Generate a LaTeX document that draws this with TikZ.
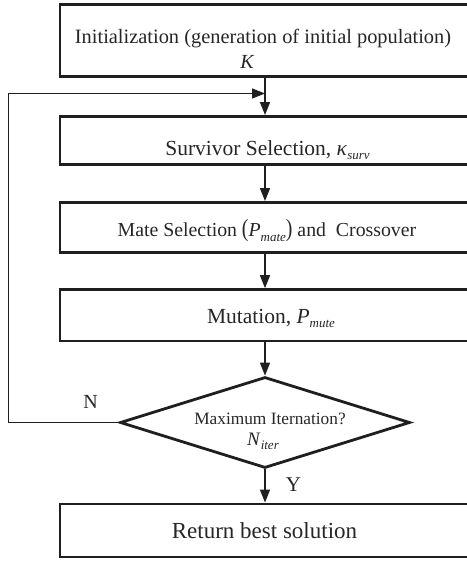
\documentclass[tikz,border=0pt]{standalone}
\usepackage{fontspec}
\setmainfont{Liberation Serif}
\usepackage{graphicx}
\usetikzlibrary{arrows.meta,shapes.geometric}
\newcommand\subsc[1]{\raisebox{-4.5pt}{\fontsize{13}{13}\selectfont\itshape #1}}
\newcommand\fs[1]{\fontsize{#1}{#1}\selectfont}
\begin{document}
\begin{tikzpicture}[x=1pt,y=-1pt,
  boxnode/.style={draw=black!88,line width=2.9pt,rectangle,minimum width=410pt,inner sep=0pt},
  decnode/.style={draw=black!88,line width=2.8pt,diamond,minimum width=290pt,minimum height=91pt,inner sep=0pt},
  txt/.style={anchor=base,inner sep=0pt,text=black!85},
  flow/.style={draw=black!88,line width=1.4pt,-{Triangle[length=13pt,width=10pt]}},
  back/.style={draw=black!88,line width=1.1pt,-{Triangle[length=13pt,width=10pt]}}]
\useasboundingbox (0,0) rectangle (466,561);
\node[boxnode,minimum height=72pt] (b1) at (265,40.5) {};
\node[boxnode,minimum height=47.8pt] (b2) at (265,140.4) {};
\node[boxnode,minimum height=50pt] (b3) at (265,227.5) {};
\node[boxnode,minimum height=51.3pt] (b4) at (265,315.3) {};
\node[decnode] (d) at (265,422.5) {};
\node[boxnode,minimum height=53pt] (b5) at (265,530.5) {};
% texts
\node[txt] (t1) at (263,43.3) {\fs{20.4}Initialization (generation of initial population)};
\node[txt] (tk) at (247,68.3) {\fs{20}\itshape K};
\node[txt] (t2) at (267.5,155.5) {\fs{21.5}Survivor Selection, \textit{κ}\subsc{surv}};
\node[txt] (t3) at (267,236.7) {\fs{19.8}Mate Selection \scalebox{1}[1.25]{(}\textit{P}\subsc{mate}\scalebox{1}[1.25]{)} and\ \ Crossover};
\node[txt] (t4) at (271,323.3) {\fs{21.5}Mutation, \textit{P}\subsc{mute}};
\node[txt] (t5) at (270,424) {\fs{17.3}Maximum Iternation?};
\node[txt] (t6) at (263,445) {\fs{19}\textit{N}\subsc{iter}};
\node[txt] (tn) at (90.5,408.3) {\fs{20}N};
\node[txt] (ty) at (293.5,491.7) {\fs{21}Y};
\node[txt] (t7) at (264.5,538.3) {\fs{23}Return best solution};
% connectors
\coordinate (corner) at (8.5,422.5);
\coordinate (join) at (265,93.5);
\draw[flow] (b1.south) -- (b2.north);
\draw[flow] (b2.south) -- (b3.north);
\draw[flow] (b3.south) -- (b4.north);
\draw[flow] (b4.south) -- (d.north);
\draw[flow] (d.south) -- (b5.north);
\draw[back] (d.west) -- (corner) |- (join);
\end{tikzpicture}
\end{document}
